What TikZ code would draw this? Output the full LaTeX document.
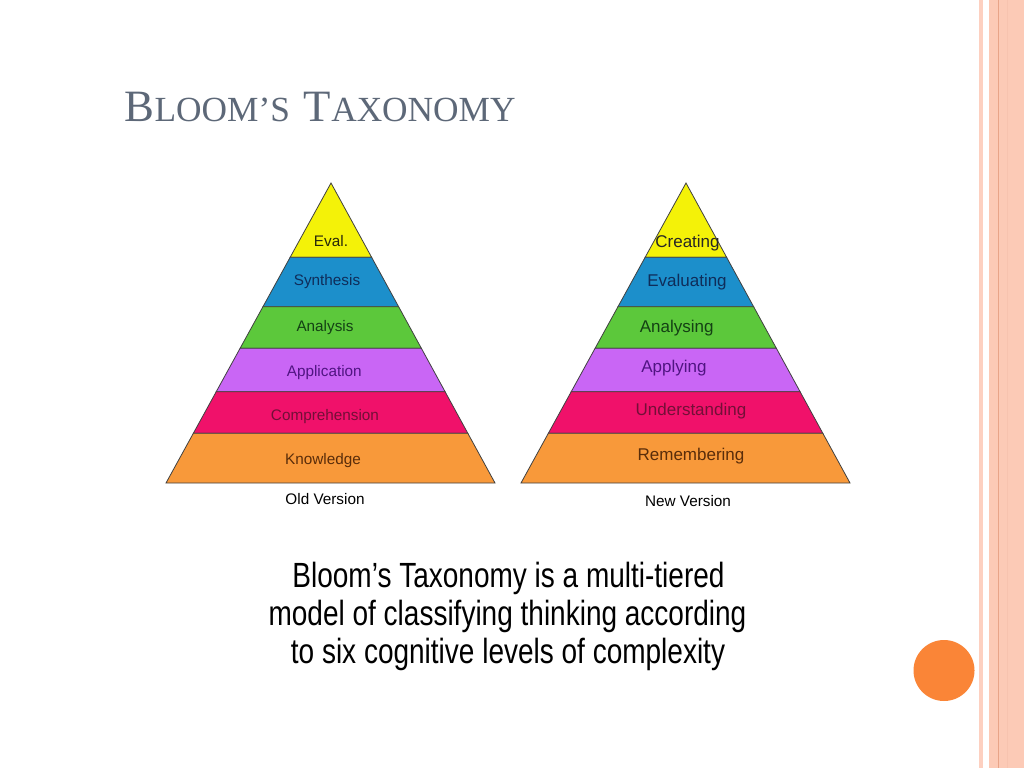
\documentclass[tikz,border=0pt]{standalone}
\usepackage{fontspec}
\setmainfont{Liberation Serif}
\newfontfamily\lsans{Liberation Sans}
\newfontfamily\narrow[FakeStretch=0.80]{Liberation Sans}
\usetikzlibrary{calc}
\definecolor{titlecol}{RGB}{93,104,120}
\definecolor{cY}{RGB}{244,242,8}
\definecolor{cB}{RGB}{28,143,203}
\definecolor{cG}{RGB}{92,200,59}
\definecolor{cV}{RGB}{201,102,245}
\definecolor{cR}{RGB}{240,17,106}
\definecolor{cO}{RGB}{248,153,58}
\definecolor{tY}{RGB}{40,40,10}
\definecolor{tB}{RGB}{15,45,90}
\definecolor{tG}{RGB}{20,65,20}
\definecolor{tV}{RGB}{80,20,130}
\definecolor{tR}{RGB}{115,15,55}
\definecolor{tO}{RGB}{90,45,10}
\definecolor{stripe}{RGB}{252,202,182}
\definecolor{stripeL}{RGB}{253,208,192}
\definecolor{stripeD}{RGB}{232,164,136}
\definecolor{dot}{RGB}{250,133,55}
\tikzset{
  band/.style={draw=black!75, line width=0.8pt, line join=miter},
  oldlab/.style={anchor=base, inner sep=0pt, font=\lsans\fontsize{15.3}{17}\selectfont},
  newlab/.style={anchor=base, inner sep=0pt, font=\lsans\fontsize{17}{19}\selectfont},
  caption/.style={anchor=base, inner sep=0pt, font=\lsans\fontsize{15.3}{17}\selectfont},
  bodytext/.style={anchor=base, inner sep=0pt, font=\narrow\fontsize{35}{38}\selectfont},
}
\newcommand{\bigsc}[1]{{\fontsize{44.8}{48}\selectfont #1}}
\newcommand{\smsc}[1]{{\fontsize{35.3}{38}\selectfont #1}}
\begin{document}
\begin{tikzpicture}[x=1pt,y=-1pt]
\useasboundingbox (0,0) rectangle (1024,768);
\fill[white] (0,0) rectangle (1024,768);
% right-edge stripes
\fill[stripeL] (979,0) rectangle (983.3,768);
\fill[stripe] (989,0) rectangle (1024,768);
\draw[stripeD, line width=1pt] (998.6,0) -- (998.6,768);
\draw[stripeL!70!stripeD, line width=0.6pt] (1007.3,0) -- (1007.3,768);
% orange dot
\fill[dot] (944,670.5) circle[radius=30.5];
% title
\node[anchor=base west, inner sep=0pt, text=titlecol] (title) at (124.5,121.3)
  {\bigsc{B}\smsc{LOOM’S}\hspace{14pt}\bigsc{T}\smsc{AXONOMY}};
% old pyramid
\coordinate (oA) at (331,183);
\coordinate (oL) at (166,483);
\coordinate (oR) at (495,483);
\foreach \ta/\tb/\col in {0/0.2477/cY, 0.2477/0.4123/cB, 0.4123/0.551/cG, 0.551/0.6957/cV, 0.6957/0.8343/cR, 0.8343/1/cO}{
  \filldraw[band, fill=\col] ($(oA)!\ta!(oL)$) -- ($(oA)!\tb!(oL)$) -- ($(oA)!\tb!(oR)$) -- ($(oA)!\ta!(oR)$) -- cycle;
}
\node[oldlab, text=tY] (o1) at (331,246) {Eval.};
\node[oldlab, text=tB] (o2) at (327,285.8) {Synthesis};
\node[oldlab, text=tG] (o3) at (325,331) {Analysis};
\node[oldlab, text=tV] (o4) at (324.3,376.5) {Application};
\node[oldlab, text=tR] (o5) at (325,420.5) {Comprehension};
\node[oldlab, text=tO] (o6) at (323,464.5) {Knowledge};
\node[caption] (oc) at (325,504.5) {Old Version};
% new pyramid
\coordinate (nA) at (686,183);
\coordinate (nL) at (521,483);
\coordinate (nR) at (850,483);
\foreach \ta/\tb/\col in {0/0.2477/cY, 0.2477/0.4123/cB, 0.4123/0.551/cG, 0.551/0.6957/cV, 0.6957/0.8343/cR, 0.8343/1/cO}{
  \filldraw[band, fill=\col] ($(nA)!\ta!(nL)$) -- ($(nA)!\tb!(nL)$) -- ($(nA)!\tb!(nR)$) -- ($(nA)!\ta!(nR)$) -- cycle;
}
\node[newlab, text=black!85] (n1) at (687.5,247) {Creating};
\node[newlab, text=tB] (n2) at (687,286.5) {Evaluating};
\node[newlab, text=tG] (n3) at (676.7,332.5) {Analysing};
\node[newlab, text=tV] (n4) at (674,372.5) {Applying};
\node[newlab, text=tR] (n5) at (691,415.5) {Understanding};
\node[newlab, text=tO] (n6) at (691,460) {Remembering};
\node[caption] (nc) at (688,506.5) {New Version};
% body text
\node[bodytext] (b1) at (508.5,587.5) {Bloom’s Taxonomy is a multi-tiered};
\node[bodytext] (b2) at (507.5,625.5) {model of classifying thinking according};
\node[bodytext] (b3) at (508,663) {to six cognitive levels of complexity};
\end{tikzpicture}
\end{document}
